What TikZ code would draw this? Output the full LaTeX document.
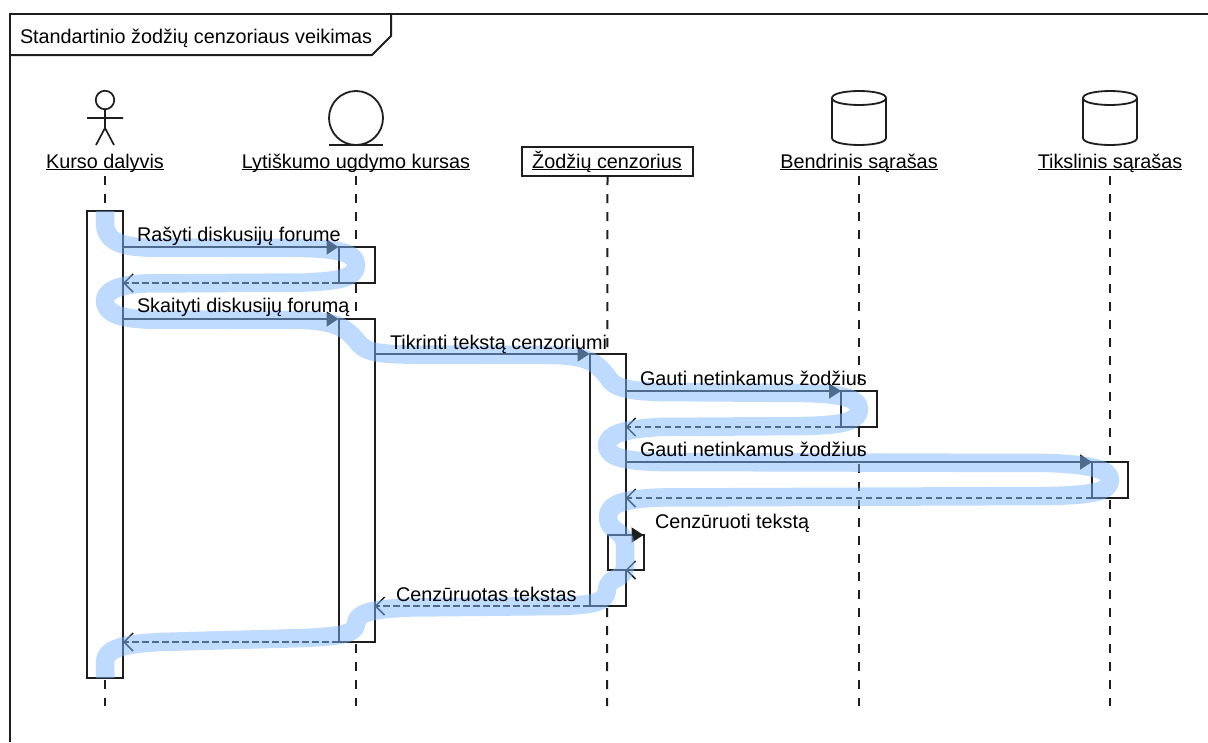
\documentclass[tikz,border=0pt]{standalone}
\usepackage{fontspec}
\setmainfont{Liberation Sans}
\usetikzlibrary{arrows.meta,shapes.geometric}
\definecolor{ink}{RGB}{30,30,30}
\definecolor{flow}{RGB}{127,185,255}
\newcommand{\headtext}[1]{\underline{\smash{#1}}}
\tikzset{
  x=1pt,y=-1pt,
  every node/.style={font=\fontsize{19.8}{22}\selectfont,text=black,inner sep=0pt,outer sep=0pt},
  lineb/.style={draw=ink,line width=2pt},
  act/.style={draw=ink,line width=2pt,fill=white,minimum width=36pt,anchor=north},
  life/.style={draw=ink,line width=2pt,dash pattern=on 9pt off 9pt},
  call/.style={draw=ink,line width=1.8pt,-{Triangle[length=12pt,width=15pt]}},
  back/.style={draw=ink,line width=1.5pt,dash pattern=on 6.5pt off 3.5pt,-{Straight Barb[length=9pt,width=18pt,line width=1.5pt]}},
  backs/.style={draw=ink,line width=1.8pt,-{Straight Barb[length=9pt,width=18pt,line width=1.5pt]}},
  msg/.style={anchor=base west},
  head/.style={anchor=base},
  dbbody/.style={draw=ink,line width=1.8pt,fill=white}
}
\begin{document}
\begin{tikzpicture}
\useasboundingbox (0,0) rectangle (1208,742);
% frame
\coordinate (fa) at (10,742);
\coordinate (fb) at (10,14);
\coordinate (fc) at (1208,14);
\coordinate (ta) at (10,55);
\coordinate (tb) at (372,55);
\coordinate (tc) at (391,36);
\coordinate (td) at (391,14);
\draw[lineb] (fa) -- (fb) -- (fc);
\draw[lineb] (ta) -- (tb) -- (tc) -- (td);
\node[msg] (title) at (20,43) {Standartinio žodžių cenzoriaus veikimas};
% heads
\node[head] (h1) at (105,168) {\headtext{Kurso dalyvis}};
\node[head] (h2) at (356,168) {\headtext{Lytiškumo ugdymo kursas}};
\node[draw=ink,line width=2pt,minimum width=171pt,minimum height=29pt] (h3) at (607.5,161.5) {};
\node[head] (h3t) at (607,168) {\headtext{Žodžių cenzorius}};
\node[head] (h4) at (859,168) {\headtext{Bendrinis sąrašas}};
\node[head] (h5) at (1110,168) {\headtext{Tikslinis sąrašas}};
% actor
\node[circle,draw=ink,line width=1.7pt,minimum size=18.5pt] (ahead) at (105,100) {};
\coordinate (aarmL) at (87,118);
\coordinate (aarmR) at (123,118);
\coordinate (ahip) at (105,128);
\coordinate (alegL) at (96,145);
\coordinate (alegR) at (114,145);
\draw[draw=ink,line width=1.7pt] (ahead.south) -- (ahip) (aarmL) -- (aarmR) (alegL) -- (ahip) -- (alegR);
% boundary
\node[circle,draw=ink,line width=1.8pt,minimum size=54pt] (bc) at (356,118) {};
\coordinate (bL) at (329,145);
\coordinate (bR) at (383,145);
\draw[draw=ink,line width=1.8pt] (bL) -- (bR);
% databases
\draw[dbbody] (832,98) -- (832,138) .. controls (832,147.3) and (886,147.3) .. (886,138) -- (886,98)
  .. controls (886,88.7) and (832,88.7) .. (832,98)
  .. controls (832,107.3) and (886,107.3) .. (886,98);
\draw[dbbody] (1083,98) -- (1083,138) .. controls (1083,147.3) and (1137,147.3) .. (1137,138) -- (1137,98)
  .. controls (1137,88.7) and (1083,88.7) .. (1083,98)
  .. controls (1083,107.3) and (1137,107.3) .. (1137,98);
% lifelines ends
\coordinate (l1t) at (105,176); \coordinate (l1b) at (105,706);
\coordinate (l2t) at (356,176); \coordinate (l2b) at (356,706);
\coordinate (l3b) at (607,706);
\coordinate (l4t) at (859,176); \coordinate (l4b) at (859,706);
\coordinate (l5t) at (1110,176); \coordinate (l5b) at (1110,706);
\draw[life] (l1t) -- (l1b);
\draw[life] (l2t) -- (l2b);
\draw[life] (h3.south) -- (l3b);
\draw[life] (l4t) -- (l4b);
\draw[life] (l5t) -- (l5b);
% activations
\node[act,minimum height=467pt] (a1) at (105,211) {};
\node[act,minimum height=36pt] (a2) at (356.5,247) {};
\node[act,minimum height=323pt] (a3) at (356.5,319) {};
\node[act,minimum height=252pt] (a4) at (607.5,354) {};
\node[act,minimum height=36pt] (a5) at (859,391) {};
\node[act,minimum height=36pt] (a6) at (1110,462) {};
\node[act,minimum height=35pt] (a7) at (625.5,535) {};
% messages
\draw[call] (a1.east |- a2.north) -- (a2.north west);
\draw[back] (a2.south west) -- (a1.east |- a2.south);
\draw[call] (a1.east |- a3.north) -- (a3.north west);
\draw[call] (a3.east |- a4.north) -- (a4.north west);
\draw[call] (a4.east |- a5.north) -- (a5.north west);
\draw[back] (a5.south west) -- (a4.east |- a5.south);
\draw[call] (a4.east |- a6.north) -- (a6.north west);
\draw[back] (a6.south west) -- (a4.east |- a6.south);
\draw[call] (a4.east |- a7.north) -- (a7.north east);
\draw[backs] (a7.south east) -- (a4.east |- a7.south);
\draw[back] (a4.south west) -- (a3.east |- a4.south);
\draw[back] (a3.west |- 0,642) -- (a1.east |- 0,642);
% flow highlight
\draw[flow,line width=18.5pt,opacity=0.5,line join=round]
  (105,211) -- (105,222)
  .. controls (105,240) and (118,246) .. (145,247.5)
  -- (305,248)
  .. controls (342,249) and (356,254) .. (356,265)
  .. controls (356,277) and (342,281) .. (305,282.5)
  -- (145,283.5)
  .. controls (117,285) and (105,291) .. (105,301)
  .. controls (105,312) and (117,318) .. (145,319.5)
  -- (305,320)
  .. controls (340,322) and (347,330) .. (356,340)
  .. controls (363,351) and (375,354) .. (405,354.5)
  -- (555,355)
  .. controls (590,356) and (597,364) .. (607,376)
  .. controls (613,388) and (628,391) .. (660,392)
  -- (805,393)
  .. controls (845,394) and (859,399) .. (859,409)
  .. controls (859,421) and (845,425) .. (805,426)
  -- (660,427)
  .. controls (620,429) and (607,436) .. (607,445)
  .. controls (607,456) and (620,461) .. (660,462)
  -- (1050,463)
  .. controls (1095,465) and (1110,470) .. (1110,480)
  .. controls (1110,491) and (1095,495) .. (1050,496)
  -- (660,497.5)
  .. controls (620,499) and (608,505) .. (608,517)
  .. controls (608,532) and (625,530) .. (625,545)
  -- (625,565)
  .. controls (625,582) and (608,575) .. (607,590)
  .. controls (606,602) and (595,605) .. (560,606)
  -- (410,607.5)
  .. controls (368,609) and (356,614) .. (356,624)
  .. controls (355,633) and (345,636) .. (305,638)
  -- (160,642)
  .. controls (120,644) and (105,650) .. (105,662)
  -- (105,678);
% labels
\node[msg] (m1) at (137,241) {Rašyti diskusijų forume};
\node[msg] (m3) at (137,312) {Skaityti diskusijų forumą};
\node[msg] (m4) at (390,349) {Tikrinti tekstą cenzoriumi};
\node[msg] (m5) at (640,385) {Gauti netinkamus žodžius};
\node[msg] (m7) at (640,456) {Gauti netinkamus žodžius};
\node[msg] (m9) at (655,528) {Cenzūruoti tekstą};
\node[msg] (m10) at (396,601) {Cenzūruotas tekstas};
\end{tikzpicture}
\end{document}
